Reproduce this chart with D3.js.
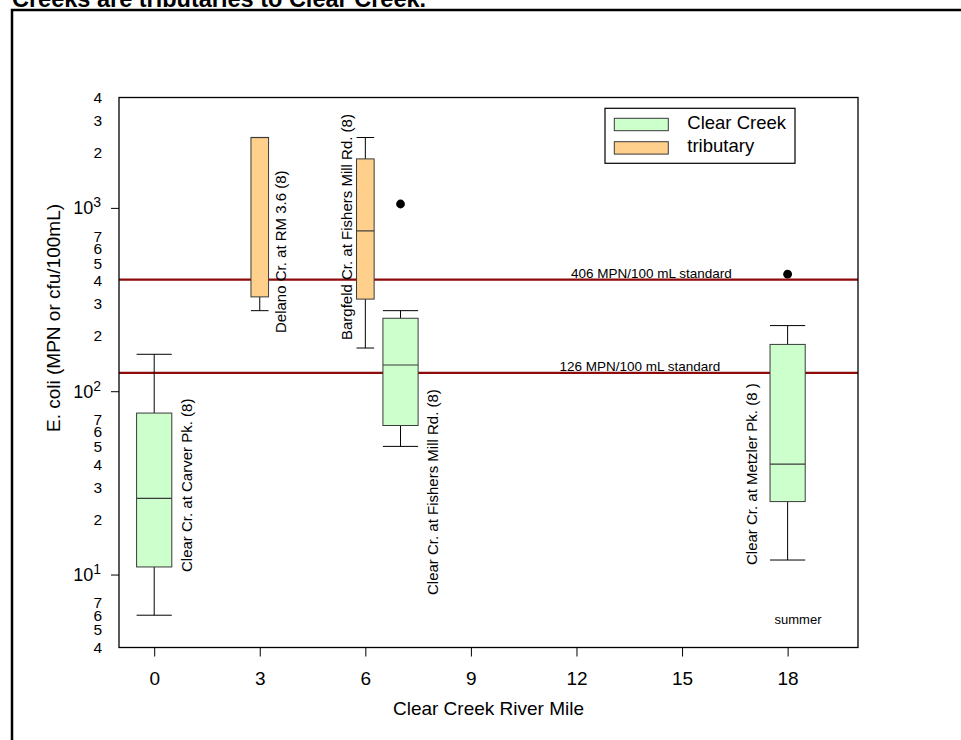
<!DOCTYPE html>
<html>
<head>
<meta charset="utf-8">
<script src="https://cdn.jsdelivr.net/npm/d3@7"></script>
<style>
  body { margin: 0; background: #fff; }
  svg { display: block; font-family: "Liberation Sans", Arial, Helvetica, sans-serif; }
</style>
</head>
<body>
<svg id="chart" width="961" height="740"></svg>
<script>
// ---- data: summer E. coli, Clear Creek and its tributaries ----
const sites = [
  "Clear Cr. at Carver Pk. (8)",
  "Delano Cr. at RM 3.6 (8)",
  "Bargfeld Cr. at Fishers Mill Rd. (8)",
  "Clear Cr. at Fishers Mill Rd. (8)",
  "Clear Cr. at Metzler Pk. (8 )"
];
const riverMile  = [0, 3, 6, 7, 18];
const siteGroup  = ["Clear Creek", "tributary", "tributary", "Clear Creek", "Clear Creek"];
const whiskerLow = [6, 275, 172, 50, 12];
const quartile1  = [11, 327, 318, 65, 25];
const medianVal  = [26, 2420, 749, 139, 40];
const quartile3  = [76, 2420, 1850, 250, 180];
const whiskerHigh= [159, 2420, 2420, 275, 228];

const outlierMile  = [7, 18];
const outlierValue = [1050, 435];

const standardValues = [406, 126];
const standardLabels = ["406 MPN/100 mL standard", "126 MPN/100 mL standard"];

const groups      = ["Clear Creek", "tributary"];
const groupFill   = ["#CCFFCC", "#FFD08C"];
const xTickValues = [0, 3, 6, 9, 12, 15, 18];
const yDecades    = [10, 100, 1000];
const yMinorTicks = [4, 5, 6, 7, 20, 30, 40, 50, 60, 70, 200, 300, 400, 500, 600, 700, 2000, 3000, 4000];

// ---- layout ----
const frame = { left: 119, right: 858, top: 97.5, bottom: 647.5 };
const boxWidthMiles = { "Clear Creek": 1.0, "tributary": 0.5 };
// site label: horizontal offset from box centre (px) and the y where the rotated text starts
const siteLabelLayout = [
  { dx: 33,  y0: 572 },
  { dx: 21,  y0: 333 },
  { dx: -19, y0: 340 },
  { dx: 32,  y0: 595 },
  { dx: -36, y0: 565 }
];
const standardLabelMile = [14.13, 13.8];

const svg = d3.select("#chart");

const x = d3.scaleLinear().domain([-1, 20]).range([frame.left, frame.right]);
const y = d3.scaleLog().domain([4, 4000]).range([frame.bottom, frame.top]);
const fill = d3.scaleOrdinal().domain(groups).range(groupFill);

// outer page border and heading
svg.append("rect")
  .attr("x", 12).attr("y", 10).attr("width", 980).attr("height", 760)
  .attr("fill", "none").attr("stroke", "#000").attr("stroke-width", 2.5);

svg.append("text")
  .attr("x", 12).attr("y", 7)
  .attr("font-size", 23.5).attr("font-weight", "bold")
  .text("Creeks are tributaries to Clear Creek.");

// x axis
const xAxis = svg.append("g")
  .attr("transform", `translate(0,${frame.bottom})`)
  .call(d3.axisBottom(x).tickValues(xTickValues).tickSize(9).tickPadding(15.5).tickFormat(d3.format("d")));
xAxis.select(".domain").remove();
xAxis.selectAll("line").attr("stroke", "#000").attr("stroke-width", 1);
xAxis.selectAll("text").attr("font-size", 19).attr("fill", "#000").attr("font-family", null);

// y axis: decade ticks
const yAxis = svg.append("g")
  .attr("transform", `translate(${frame.left},0)`)
  .call(d3.axisLeft(y).tickValues(yDecades).tickSize(8).tickFormat(""));
yAxis.select(".domain").remove();
yAxis.selectAll("line").attr("stroke", "#000").attr("stroke-width", 1);

// y axis: minor labels (leading digit only)
const yMinor = svg.append("g")
  .attr("transform", `translate(${frame.left},0)`)
  .call(d3.axisLeft(y).tickValues(yMinorTicks).tickSize(0).tickPadding(17)
    .tickFormat(d => String(d).charAt(0)));
yMinor.select(".domain").remove();
yMinor.attr("font-size", 15.5);
yMinor.selectAll("text").attr("font-size", 15.5).attr("fill", "#000").attr("font-family", null);

// y axis: decade labels as powers of ten
const decadeLabels = svg.append("g").selectAll("text").data(yDecades).join("text")
  .attr("x", 101).attr("y", d => y(d) + 6.4)
  .attr("text-anchor", "end");
decadeLabels.append("tspan").attr("font-size", 18).text("10");
decadeLabels.append("tspan").attr("font-size", 14).attr("dy", -6.9).text(d => Math.round(Math.log10(d)));

// axis titles
svg.append("text")
  .attr("transform", "translate(60,318) rotate(-90)")
  .attr("text-anchor", "middle").attr("font-size", 19)
  .text("E. coli (MPN or cfu/100mL)");

svg.append("text")
  .attr("x", (frame.left + frame.right) / 2).attr("y", 715)
  .attr("text-anchor", "middle").attr("font-size", 19)
  .text("Clear Creek River Mile");

// standards
const std = svg.append("g");
std.selectAll("line").data(standardValues).join("line")
  .attr("x1", frame.left).attr("x2", frame.right)
  .attr("y1", d => y(d)).attr("y2", d => y(d))
  .attr("stroke", "#8E0B0B").attr("stroke-width", 2.3);
std.selectAll("text").data(standardValues).join("text")
  .attr("x", (d, i) => x(standardLabelMile[i]))
  .attr("y", d => y(d) - 2)
  .attr("text-anchor", "middle").attr("font-size", 13.5)
  .text((d, i) => standardLabels[i]);

// box plots
const boxes = sites.map((s, i) => ({
  site: s, mile: riverMile[i], group: siteGroup[i],
  lo: whiskerLow[i], q1: quartile1[i], med: medianVal[i], q3: quartile3[i], hi: whiskerHigh[i],
  layout: siteLabelLayout[i]
}));

const bx = svg.append("g").selectAll("g").data(boxes).join("g");
const half = d => boxWidthMiles[d.group] / 2;
const left = d => x(d.mile - half(d));
const right = d => x(d.mile + half(d));

bx.append("line") // lower whisker
  .attr("x1", d => x(d.mile)).attr("x2", d => x(d.mile))
  .attr("y1", d => y(d.lo)).attr("y2", d => y(d.q1))
  .attr("stroke", "#000").attr("stroke-width", 1);
bx.append("line") // upper whisker
  .attr("x1", d => x(d.mile)).attr("x2", d => x(d.mile))
  .attr("y1", d => y(d.q3)).attr("y2", d => y(d.hi))
  .attr("stroke", "#000").attr("stroke-width", 1);
bx.append("line") // lower cap
  .attr("x1", left).attr("x2", right)
  .attr("y1", d => y(d.lo)).attr("y2", d => y(d.lo))
  .attr("stroke", "#000").attr("stroke-width", 1);
bx.append("line") // upper cap
  .attr("x1", left).attr("x2", right)
  .attr("y1", d => y(d.hi)).attr("y2", d => y(d.hi))
  .attr("stroke", "#000").attr("stroke-width", 1);
bx.append("rect")
  .attr("x", left).attr("width", d => right(d) - left(d))
  .attr("y", d => y(d.q3)).attr("height", d => y(d.q1) - y(d.q3))
  .attr("fill", d => fill(d.group))
  .attr("stroke", "#3a3a3a").attr("stroke-width", 1);
bx.append("line") // median
  .attr("x1", left).attr("x2", right)
  .attr("y1", d => y(d.med)).attr("y2", d => y(d.med))
  .attr("stroke", "#3a3a3a").attr("stroke-width", 1.2);

// site labels
bx.append("text")
  .attr("transform", d => `translate(${x(d.mile) + d.layout.dx},${d.layout.y0}) rotate(-90)`)
  .attr("dy", "0.35em")
  .attr("font-size", 15)
  .text(d => d.site);

// outliers
svg.append("g").selectAll("circle").data(outlierMile).join("circle")
  .attr("cx", d => x(d)).attr("cy", (d, i) => y(outlierValue[i]))
  .attr("r", 4.4).attr("fill", "#000");

// plot frame
svg.append("rect")
  .attr("x", frame.left).attr("y", frame.top)
  .attr("width", frame.right - frame.left).attr("height", frame.bottom - frame.top)
  .attr("fill", "none").attr("stroke", "#000").attr("stroke-width", 1.3);

// season note
svg.append("text")
  .attr("x", 798).attr("y", 623.5).attr("text-anchor", "middle").attr("font-size", 13)
  .text("summer");

// legend
const legend = svg.append("g");
legend.append("rect")
  .attr("x", 605).attr("y", 108.3).attr("width", 190).attr("height", 55)
  .attr("fill", "#fff").attr("stroke", "#000").attr("stroke-width", 1.2);
const li = legend.selectAll("g").data(groups).join("g")
  .attr("transform", (d, i) => `translate(614.3,${118.3 + i * 23.4})`);
li.append("rect").attr("width", 54).attr("height", 12.4)
  .attr("fill", d => fill(d)).attr("stroke", "#3a3a3a").attr("stroke-width", 1);
li.append("text").attr("x", 73).attr("y", 10.3).attr("font-size", 18.5).text(d => d);
</script>
</body>
</html>
